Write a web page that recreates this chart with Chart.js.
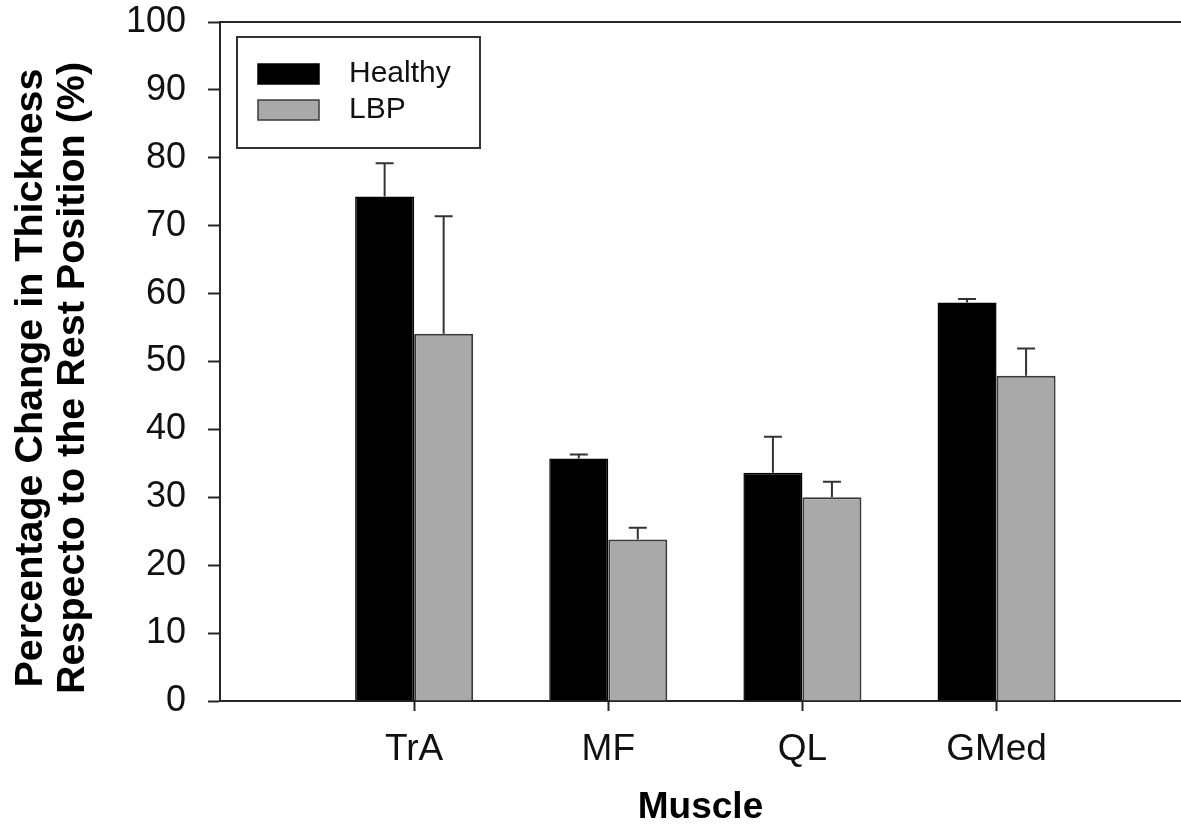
<!DOCTYPE html>
<html>
<head>
<meta charset="utf-8">
<title>Percentage change in muscle thickness</title>
<script src="https://cdn.jsdelivr.net/npm/chart.js@4.4.1/dist/chart.umd.min.js"></script>
<style>
  html, body { margin: 0; padding: 0; background: #fff; }
  #wrap { width: 1181px; height: 830px; position: relative; }
</style>
</head>
<body>
<div id="wrap"><canvas id="chart"></canvas></div>
<script>
// Muscle thickness change vs rest position — healthy vs LBP, mean + upper SD.

const MUSCLES    = ["TrA", "MF", "QL", "GMed"];
const HEALTHY    = [74.3, 35.7, 33.6, 58.7];
const HEALTHY_SD = [4.9, 0.6, 5.3, 0.5];
const LBP        = [54.1, 23.8, 30.0, 47.9];
const LBP_SD     = [17.3, 1.7, 2.3, 4.0];

const Y_MIN = 0, Y_MAX = 100, Y_STEP = 10;
// categories sit at 1..4 on a numeric axis that starts at 0 (SigmaPlot style)
const X_MIN = 0, X_MAX = 4.95;

const FONT = "'Liberation Sans', Arial, sans-serif";
const INK = "#111";
const AXIS = "#262626";

const pts = (vals) => vals.map((v, i) => ({ x: i + 1, y: v }));

// upper error bars only, like the original figure
const errorBars = {
  id: "errorBars",
  afterDatasetsDraw(chart) {
    const { ctx } = chart;
    const yScale = chart.scales.y;
    ctx.save();
    ctx.strokeStyle = "#333";
    ctx.lineWidth = 2;
    chart.data.datasets.forEach((ds, d) => {
      const meta = chart.getDatasetMeta(d);
      meta.data.forEach((bar, i) => {
        const top = yScale.getPixelForValue(ds.data[i].y + ds.errors[i]);
        ctx.beginPath();
        ctx.moveTo(bar.x, bar.y);
        ctx.lineTo(bar.x, top);
        ctx.moveTo(bar.x - 9, top);
        ctx.lineTo(bar.x + 9, top);
        ctx.stroke();
      });
    });
    ctx.restore();
  },
};

// boxed legend in the top-left corner of the plot
const boxLegend = {
  id: "boxLegend",
  afterDraw(chart) {
    const { ctx, chartArea } = chart;
    const x0 = chartArea.left + 17, y0 = chartArea.top + 15;
    ctx.save();
    ctx.lineWidth = 2;
    ctx.strokeStyle = "#333";
    ctx.strokeRect(x0, y0, 243, 111);
    chart.data.datasets.forEach((ds, i) => {
      const sy = y0 + 27 + i * 36;
      ctx.fillStyle = ds.backgroundColor;
      ctx.fillRect(x0 + 21, sy, 61, 20);
      ctx.lineWidth = 1.5;
      ctx.strokeStyle = ds.borderColor;
      ctx.strokeRect(x0 + 21, sy, 61, 20);
      ctx.fillStyle = INK;
      ctx.font = `30px ${FONT}`;
      ctx.textBaseline = "middle";
      ctx.fillText(ds.label, x0 + 112, sy + 10);
    });
    ctx.restore();
  },
};

new Chart(document.getElementById("chart"), {
  type: "bar",
  data: {
    datasets: [
      {
        label: "Healthy",
        data: pts(HEALTHY),
        errors: HEALTHY_SD,
        backgroundColor: "#000000",
        borderColor: "#000000",
        borderWidth: 1.5,
      },
      {
        label: "LBP",
        data: pts(LBP),
        errors: LBP_SD,
        backgroundColor: "#a9a9a9",
        borderColor: "#3a3a3a",
        borderWidth: 2,
      },
    ],
  },
  options: {
    responsive: true,
    maintainAspectRatio: false,
    animation: false,
    categoryPercentage: 0.608,
    barPercentage: 1.0,
    layout: { padding: 0 },
    plugins: {
      legend: { display: false },
      tooltip: { enabled: false },
    },
    scales: {
      x: {
        type: "linear",
        position: "bottom",
        min: X_MIN,
        max: X_MAX,
        offset: false,
        afterBuildTicks: (s) => { s.ticks = MUSCLES.map((_, i) => ({ value: i + 1 })); },
        afterFit: (s) => { s.height = 129; },
        ticks: {
          autoSkip: false,
          maxRotation: 0,
          padding: 17,
          color: INK,
          font: { family: FONT, size: 37 },
          callback: (v) => MUSCLES[v - 1],
        },
        grid: { offset: false, drawOnChartArea: false, tickLength: 10, tickWidth: 2, tickColor: AXIS },
        border: { color: AXIS, width: 2 },
        title: {
          display: true,
          text: "Muscle",
          color: "#000",
          padding: { top: 0, bottom: 0 },
          font: { family: FONT, size: 37, weight: "bold" },
        },
      },
      // only here to draw the frame line along the top of the plot
      top: {
        type: "linear",
        position: "top",
        min: X_MIN,
        max: X_MAX,
        afterFit: (s) => { s.height = 1; },
        ticks: { display: false },
        grid: { display: false },
        border: { color: AXIS, width: 2 },
      },
      y: {
        min: Y_MIN,
        max: Y_MAX,
        // fixed axis width; the wide tick padding would otherwise also push
        // the plot top down, so keep just half a label of room up there
        afterFit: (s) => { s.width = 220; s.paddingTop = 22; },
        ticks: {
          stepSize: Y_STEP,
          padding: 22,
          color: INK,
          font: { family: FONT, size: 36 },
        },
        grid: { drawOnChartArea: false, tickLength: 12, tickWidth: 2, tickColor: AXIS },
        border: { color: AXIS, width: 2 },
        title: {
          display: true,
          // trailing spaces nudge the centred title a bit lower, as in the figure
          text: ["Percentage Change in Thickness   ", "Respecto to the Rest Position (%)   "],
          color: "#000",
          padding: { top: 10, bottom: 0 },
          font: { family: FONT, size: 39.5, weight: "bold", lineHeight: 1.06 },
        },
      },
    },
  },
  plugins: [errorBars, boxLegend],
});
</script>
</body>
</html>
